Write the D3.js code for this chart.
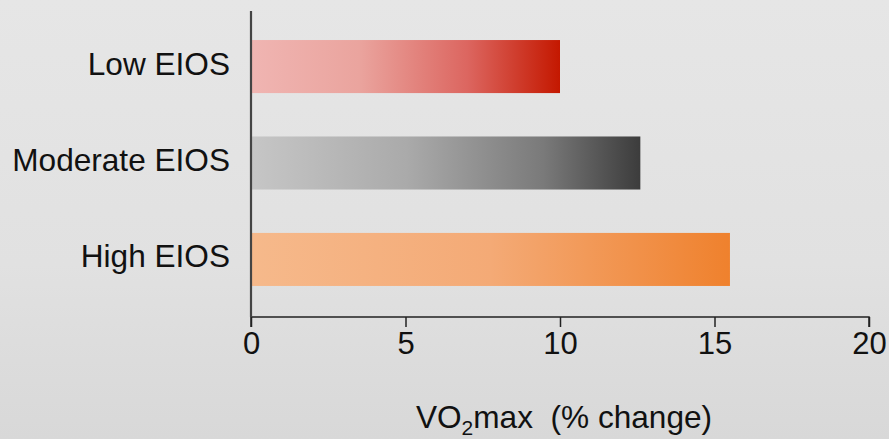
<!DOCTYPE html>
<html>
<head>
<meta charset="utf-8">
<script src="https://cdn.jsdelivr.net/npm/d3@7"></script>
<style>
  html, body { margin: 0; padding: 0; overflow: hidden; }
  svg { display: block; font-family: "Liberation Sans", Arial, Helvetica, sans-serif; }
</style>
</head>
<body>
<svg id="chart" width="889" height="439"></svg>
<script>
// Change in VO2max by exercise-induced oxygen saturation group
const categories = ["Low EIOS", "Moderate EIOS", "High EIOS"];
const values = [10, 12.6, 15.5];
const xTicks = [0, 5, 10, 15, 20];

// Bar gradients (left → right)
const gradients = [
  [["0%", "#f0b5b2"], ["35%", "#eaa49e"], ["70%", "#dc6660"], ["100%", "#c41800"]],
  [["0%", "#c6c6c6"], ["40%", "#aaaaaa"], ["75%", "#7a7a7a"], ["100%", "#3c3c3c"]],
  [["0%", "#f6b98b"], ["50%", "#f4aa76"], ["100%", "#ef812d"]]
];

const W = 889, H = 439;
const svg = d3.select("#chart");
const defs = svg.append("defs");

// background
const bg = defs.append("linearGradient").attr("id", "bg")
  .attr("x1", 0).attr("y1", 0).attr("x2", 0).attr("y2", 1);
bg.append("stop").attr("offset", "0%").attr("stop-color", "#e6e6e6");
bg.append("stop").attr("offset", "60%").attr("stop-color", "#e1e1e1");
bg.append("stop").attr("offset", "100%").attr("stop-color", "#d8d8d8");
svg.append("rect").attr("width", W).attr("height", H).attr("fill", "url(#bg)");

gradients.forEach((stops, i) => {
  const g = defs.append("linearGradient").attr("id", "bar" + i)
    .attr("x1", 0).attr("y1", 0).attr("x2", 1).attr("y2", 0);
  stops.forEach(([o, c]) => g.append("stop").attr("offset", o).attr("stop-color", c));
});

const x = d3.scaleLinear().domain([0, 20]).range([251, 869]);
const y = d3.scaleBand().domain(categories).range([14, 312])
  .paddingInner(0.45).paddingOuter(0.27);

// bars
svg.append("g").selectAll("rect")
  .data(categories)
  .join("rect")
  .attr("x", x(0))
  .attr("y", d => y(d))
  .attr("width", (d, i) => x(values[i]) - x(0))
  .attr("height", y.bandwidth())
  .attr("fill", (d, i) => `url(#bar${i})`);

// x axis
const xAxis = svg.append("g")
  .attr("transform", "translate(0,317)")
  .call(d3.axisBottom(x).tickValues(xTicks).tickSize(10).tickPadding(5).tickFormat(d3.format("d")));
xAxis.select(".domain").attr("stroke", "#222").attr("stroke-width", 1.5)
  .attr("d", `M${x(0)},10V0H${x(20)}V10`);
xAxis.selectAll(".tick line").attr("stroke", "#222").attr("stroke-width", 1.5);
xAxis.selectAll(".tick text")
  .attr("fill", "#111").attr("font-size", 31).attr("font-family", "Liberation Sans, Arial, sans-serif");

// y axis line
svg.append("line")
  .attr("x1", x(0)).attr("x2", x(0))
  .attr("y1", 11).attr("y2", 317)
  .attr("stroke", "#444").attr("stroke-width", 2.2);

// category labels
svg.append("g").selectAll("text")
  .data(categories)
  .join("text")
  .attr("x", 230)
  .attr("y", d => y(d) + y.bandwidth() / 2 + 8)
  .attr("text-anchor", "end")
  .attr("font-size", 31.6)
  .attr("fill", "#111")
  .text(d => d);

// axis title with subscript
const title = svg.append("text")
  .attr("x", 564)
  .attr("y", 428)
  .attr("text-anchor", "middle")
  .attr("font-size", 31.6)
  .attr("fill", "#111")
  .style("white-space", "pre");
title.append("tspan").text("VO");
title.append("tspan").attr("font-size", 21).attr("dy", 7).text("2");
title.append("tspan").attr("dy", -7).text("max  (% change)");
</script>
</body>
</html>
